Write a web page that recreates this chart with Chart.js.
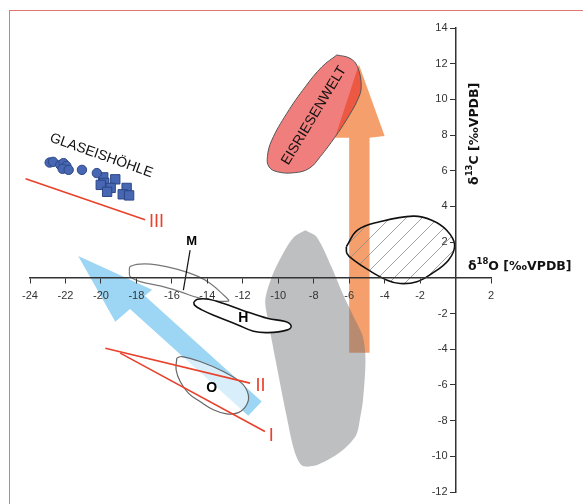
<!DOCTYPE html>
<html>
<head>
<meta charset="utf-8">
<script src="https://cdn.jsdelivr.net/npm/chart.js@4"></script>
<style>
  html, body { margin: 0; padding: 0; background: #fff; }
  #wrap { position: relative; width: 583px; height: 504px; overflow: hidden; }
  #frame { position: absolute; left: 9px; top: 10px; width: 640px; height: 640px;
           border-left: 1.5px solid #e27676; border-top: 1.5px solid #e27676; pointer-events: none; }
</style>
</head>
<body>
<div id="wrap">
  <canvas id="isoChart" width="583" height="504"></canvas>
  <div id="frame"></div>
</div>
<script>
"use strict";

// axis ranges (δ18O on x, δ13C on y), both in ‰ VPDB
const xRange = [-24, 2];
const yRange = [-12, 14];
const tickStep = 2;

// Glaseishöhle samples
const glaseisCircles = [
  [-22.89, 6.46], [-22.7, 6.5], [-22.29, 6.33], [-22.11, 6.43], [-21.95, 6.27],
  [-22.16, 6.11], [-21.82, 6.05], [-21.07, 6.05], [-20.23, 5.87]
];
const glaseisSquares = [
  [-19.87, 5.63], [-19.81, 5.32], [-20.01, 5.21], [-19.19, 5.52], [-19.45, 5.04],
  [-19.65, 4.82], [-18.55, 5.04], [-18.77, 4.68], [-18.41, 4.62]
];

// outlined fields
const grayField = [
  [-8.47, 2.67], [-7.84, 2.3], [-7.0, 0.62], [-6.37, -0.88], [-5.74, -2.19], [-5.22, -3.31],
  [-5.08, -4.6], [-5.22, -6.86], [-5.37, -7.79], [-5.6, -8.8], [-6.37, -9.66], [-7.21, -10.2],
  [-8.05, -10.55], [-8.68, -10.5], [-9.1, -9.66], [-9.52, -7.79], [-10.15, -4.6], [-10.57, -2.37],
  [-10.73, -1.25], [-10.36, 0.06], [-9.73, 1.36], [-9.1, 2.3]
];
const eisriesenweltField = [
  [-6.69, 12.49], [-5.95, 12.3], [-5.53, 11.83], [-5.32, 10.71], [-5.53, 9.96], [-6.16, 8.84],
  [-6.79, 7.9], [-7.63, 6.79], [-8.26, 6.13], [-9.1, 5.89], [-10.04, 5.94], [-10.52, 6.22],
  [-10.61, 6.79], [-10.36, 7.72], [-9.52, 9.21], [-8.47, 10.71], [-7.53, 11.83]
];
const hatchedField = [
  [-6.16, 1.74], [-5.53, 2.67], [-4.28, 3.14], [-2.39, 3.46], [-1.34, 3.23], [-0.5, 2.67],
  [-0.05, 1.85], [-0.4, 0.99], [-1.34, 0.24], [-2.18, -0.22], [-3.12, -0.32], [-3.86, -0.13],
  [-4.9, 0.43], [-5.74, 0.99], [-6.12, 1.36]
];
const mField = [
  [-18.4, 0.35], [-18.35, 0.63], [-17.79, 0.77], [-16.85, 0.73], [-15.72, 0.49], [-14.59, 0.11],
  [-13.85, -0.3], [-13.19, -0.86], [-12.82, -1.3], [-14.41, -1.14], [-15.54, -0.77],
  [-16.66, -0.45], [-17.79, -0.21], [-18.35, 0.07]
];
const mLeader = [[-14.97, 1.55], [-15.35, -0.69]];
const hField = [
  [-14.76, -1.35], [-14.55, -1.2], [-13.92, -1.2], [-13.08, -1.44], [-12.03, -1.81], [-10.57, -2.28],
  [-9.6, -2.45], [-9.27, -2.71], [-9.52, -2.93], [-10.57, -3.07], [-11.4, -2.99], [-12.24, -2.65],
  [-13.5, -2.15], [-14.34, -1.78], [-14.72, -1.53]
];
const oField = [
  [-15.72, -4.5], [-15.44, -4.41], [-14.41, -4.69], [-13.1, -5.25], [-12.06, -5.9], [-11.69, -6.55],
  [-11.78, -7.11], [-12.25, -7.55], [-12.91, -7.62], [-13.66, -7.39], [-14.41, -6.93],
  [-15.07, -6.46], [-15.53, -5.81], [-15.76, -5.15]
];

// arrows
const orangeArrow = [
  [-6.0, -4.2], [-6.0, 7.85], [-6.8, 7.85], [-5.45, 11.95], [-4.0, 7.95], [-4.85, 7.85], [-4.85, -4.2]
];
const blueArrow = [
  [-21.28, 1.23], [-17.11, -0.67], [-17.53, -1.01], [-10.93, -6.93], [-11.69, -7.73],
  [-18.36, -1.75], [-19.19, -2.46]
];

// trend lines I, II, III
const lineI = [[-18.91, -4.22], [-10.75, -8.61]];
const lineII = [[-19.75, -3.94], [-11.59, -5.9]];
const lineIII = [[-24.25, 5.55], [-17.51, 3.25]];

// text anchors (data coordinates)
const labelTexts = ['GLASEISHÖHLE', 'EISRIESENWELT', 'M', 'H', 'O', 'I', 'II', 'III'];
const labelAnchors = [[-19.98, 6.85], [-7.98, 9.09], [-14.88, 2.03], [-11.97, -2.26],
                      [-13.75, -6.18], [-10.39, -8.85], [-11.0, -6.09], [-16.87, 3.1]];

const RED = '#e8412c';
const SANS = '"Liberation Sans", Arial, sans-serif';

const pts = arr => arr.map(([x, y]) => ({ x, y }));
const closed = arr => pts(arr.concat([arr[0]]));

const makeHatch = () => {
  const c = document.createElement('canvas');
  c.width = 16; c.height = 16;
  const g = c.getContext('2d');
  g.strokeStyle = '#8c8c8c';
  g.lineWidth = 0.8;
  g.beginPath();
  g.moveTo(0, 16); g.lineTo(16, 0);
  g.moveTo(-4, 4); g.lineTo(4, -4);
  g.moveTo(12, 20); g.lineTo(20, 12);
  g.stroke();
  return g.createPattern(c, 'repeat');
};

const area = (data, opts) => Object.assign({
  type: 'line', data: closed(data), fill: 'shape', tension: 0,
  pointRadius: 0, pointHoverRadius: 0, borderWidth: 0, borderColor: 'rgba(0,0,0,0)', clip: false
}, opts);

const segment = (data, color, width) => ({
  type: 'line', data: pts(data), fill: false, tension: 0, borderColor: color,
  borderWidth: width, pointRadius: 0, pointHoverRadius: 0, clip: false, order: 2
});

const drawIsoTitle = (ctx, num, letter) => {
  const main = 'bold 12.5px "DejaVu Sans", Verdana, sans-serif';
  const small = 'bold 8.5px "DejaVu Sans", Verdana, sans-serif';
  const parts = [['δ', main, 0], [num, small, -4.5], [letter + ' [‰VPDB]', main, 0]];
  let w = 0;
  for (const [t, f] of parts) { ctx.font = f; w += ctx.measureText(t).width; }
  let cx = -w / 2;
  for (const [t, f, dy] of parts) {
    ctx.font = f;
    ctx.fillText(t, cx, dy);
    cx += ctx.measureText(t).width;
  }
  return w;
};

const tickFont = { family: SANS, size: 11 };

const annotate = {
  id: 'annotate',
  afterDraw(chart) {
    const { ctx, scales: { x, y } } = chart;
    const px = v => x.getPixelForValue(v);
    const py = v => y.getPixelForValue(v);
    const styles = [
      { font: `14px ${SANS}`, color: '#111', rot: 19.5 },
      { font: `14px ${SANS}`, color: '#111', rot: -59 },
      { font: `bold 13px ${SANS}`, color: '#000', rot: 0 },
      { font: `bold 14px ${SANS}`, color: '#000', rot: 0 },
      { font: `bold 14px ${SANS}`, color: '#000', rot: 0 },
      { font: `18px ${SANS}`, color: RED, rot: 0 },
      { font: `18px ${SANS}`, color: RED, rot: 0 },
      { font: `18px ${SANS}`, color: RED, rot: 0 }
    ];
    ctx.save();
    ctx.textAlign = 'center';
    ctx.textBaseline = 'middle';
    labelTexts.forEach((t, i) => {
      const s = styles[i];
      ctx.save();
      ctx.translate(px(labelAnchors[i][0]), py(labelAnchors[i][1]));
      ctx.rotate(s.rot * Math.PI / 180);
      ctx.font = s.font;
      ctx.fillStyle = s.color;
      ctx.fillText(t, 0, 0);
      ctx.restore();
    });

    // y tick labels, set off to the left of the crossing axis
    ctx.font = `${tickFont.size}px ${SANS}`;
    ctx.fillStyle = '#333';
    ctx.textAlign = 'right';
    for (const t of y.ticks) {
      if (t.value === 0) continue;
      ctx.fillText(String(t.value), px(0) - 8, py(t.value));
    }

    // axis titles
    ctx.fillStyle = '#111';
    ctx.textAlign = 'left';
    ctx.save();
    ctx.translate(px(0.7), py(0.64));
    ctx.save();
    ctx.globalAlpha = 0;
    const wx = drawIsoTitle(ctx, '18', 'O');
    ctx.restore();
    ctx.translate(wx / 2, 0);
    drawIsoTitle(ctx, '18', 'O');
    ctx.restore();

    ctx.save();
    ctx.translate(px(1.08), py(8.07));
    ctx.rotate(-Math.PI / 2);
    drawIsoTitle(ctx, '13', 'C');
    ctx.restore();
    ctx.restore();
  }
};

new Chart(document.getElementById('isoChart'), {
  type: 'scatter',
  data: {
    datasets: [
      {
        data: pts(glaseisCircles), pointStyle: 'circle', pointRadius: 4.7,
        backgroundColor: '#4767b3', borderColor: '#2c4787', borderWidth: 1, order: 1
      },
      {
        data: pts(glaseisSquares), pointStyle: 'rect', pointRadius: 6.6,
        backgroundColor: '#4767b3', borderColor: '#2c4787', borderWidth: 1, order: 1
      },
      segment(lineI, RED, 1.6),
      segment(lineII, RED, 1.6),
      segment(lineIII, RED, 1.6),
      segment(mLeader, '#111', 1.2),
      area(oField, { backgroundColor: 'rgba(255,255,255,0.6)', borderColor: '#666', borderWidth: 1.2, tension: 0.4, order: 3 }),
      area(hField, { backgroundColor: '#fff', borderColor: '#111', borderWidth: 1.6, tension: 0.4, order: 3 }),
      area(mField, { fill: false, borderColor: '#777', borderWidth: 1.2, tension: 0.4, order: 4 }),
      area(blueArrow, { backgroundColor: '#9dd6f4', order: 5 }),
      area(hatchedField, { backgroundColor: makeHatch(), borderColor: '#111', borderWidth: 1.6, tension: 0.4, order: 6 }),
      area(eisriesenweltField, { backgroundColor: 'rgba(230,40,38,0.6)', borderColor: '#555', borderWidth: 1, tension: 0.4, order: 7 }),
      area(grayField, { backgroundColor: 'rgba(110,112,118,0.45)', tension: 0.3, order: 8 }),
      area(orangeArrow, { backgroundColor: '#f5a06c', order: 9 })
    ]
  },
  options: {
    responsive: false,
    animation: false,
    events: [],
    layout: { autoPadding: false, padding: { left: 30, right: 92, top: 28, bottom: 12 } },
    plugins: { legend: { display: false }, tooltip: { enabled: false } },
    scales: {
      x: {
        type: 'linear', min: xRange[0], max: xRange[1], position: { y: 0 },
        afterFit: s => { s.height = 0; },
        ticks: {
          stepSize: tickStep, autoSkip: false, maxRotation: 0, padding: 7, color: '#333', font: tickFont, z: 2,
          callback: v => (v === 0 ? '' : String(v))
        },
        grid: { drawOnChartArea: false, drawTicks: true, tickLength: 5, color: '#333', lineWidth: 1, z: 2 },
        border: { color: '#333', width: 1.5, z: 2 }
      },
      y: {
        type: 'linear', min: yRange[0], max: yRange[1], position: { x: 0 },
        afterFit: s => { s.width = 0; },
        ticks: { stepSize: tickStep, autoSkip: false, display: false },
        grid: { drawOnChartArea: false, drawTicks: true, tickLength: 5, color: '#333', lineWidth: 1, z: 2 },
        border: { color: '#333', width: 1.5, z: 2 }
      }
    }
  },
  plugins: [annotate]
});
</script>
</body>
</html>
